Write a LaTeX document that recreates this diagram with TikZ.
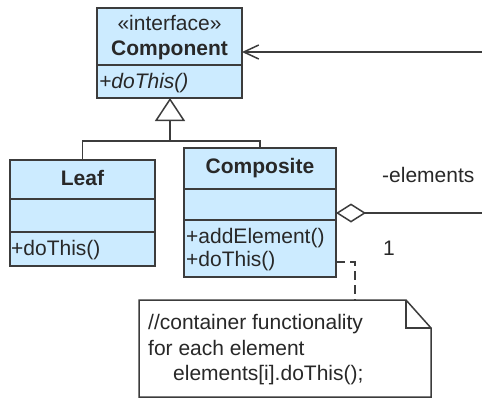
\documentclass[tikz,border=0pt]{standalone}
\usepackage{fontspec}
\setmainfont{Liberation Sans}
\usetikzlibrary{arrows.meta}
\definecolor{clsfill}{RGB}{204,235,255}
\definecolor{ln}{RGB}{60,60,60}
\definecolor{txtc}{RGB}{40,40,40}
\begin{document}
\begin{tikzpicture}[x=1pt,y=-1pt,
  cls/.style={draw=ln, fill=clsfill, line width=1.5pt, inner sep=0pt, outer sep=0pt, anchor=north west},
  txt/.style={font=\fontsize{21}{25}\selectfont, text=txtc, inner sep=0pt, anchor=base},
  btxt/.style={txt, font=\fontsize{21}{25}\selectfont\bfseries},
  lbl/.style={txt, anchor=base west},
  conn/.style={draw=ln, line width=1.5pt},
]
\useasboundingbox (0,0) rectangle (482,399);

% Component
\node[cls, minimum width=145pt, minimum height=90pt] (comp) at (97,8) {};
\draw[conn] (comp.west |- 0,65) -- (comp.east |- 0,65);
\node[txt] (compst) at (169.5,30) {«interface»};
\node[btxt] (compname) at (169.5,55) {Component};
\node[lbl] (compop) at (99,88) {\itshape +doThis()};

% Leaf
\node[cls, minimum width=145pt, minimum height=106pt] (leaf) at (10,160) {};
\draw[conn] (leaf.west |- 0,199) -- (leaf.east |- 0,199);
\draw[conn] (leaf.west |- 0,232) -- (leaf.east |- 0,232);
\node[btxt] (leafname) at (82.5,185) {Leaf};
\node[lbl] (leafop) at (11,255) {+doThis()};

% Composite
\node[cls, minimum width=152pt, minimum height=129pt] (compo) at (184,148) {};
\draw[conn] (compo.west |- 0,189) -- (compo.east |- 0,189);
\draw[conn] (compo.west |- 0,220) -- (compo.east |- 0,220);
\node[btxt] (componame) at (260,173) {Composite};
\node[lbl] (compoop1) at (186,243) {+addElement()};
\node[lbl] (compoop2) at (186,266) {+doThis()};

% generalization
\coordinate (j) at (170,141);
\draw[conn] (leaf.north) |- (j) -| (compo.north);
\draw[conn, -{Triangle[fill=white, length=23pt, width=30pt]}] (j) -- (comp.south -| j);

% dependency arrow to Component
\coordinate (r1) at (482,52);
\draw[conn, -{Straight Barb[length=15pt, width=14pt]}] (r1) -- (comp.east |- r1);

% aggregation
\coordinate (r2) at (482,213);
\draw[conn, -{Diamond[fill=white, length=30pt, width=19pt]}] (r2) -- (compo.east |- r2);
\node[lbl] (elab) at (382,182) {-elements};
\node[lbl] (mult) at (383,255) {1};

% note
\node[inner sep=0pt, outer sep=0pt, minimum width=292pt, minimum height=97pt, anchor=north west] (note) at (139,300) {};
\draw[conn, fill=white, line join=miter] (note.north west) -- ([xshift=-25pt]note.north east) -- ([yshift=-28pt]note.north east) -- (note.south east) -- (note.south west) -- cycle;
\draw[conn] ([xshift=-25pt]note.north east) |- ([yshift=-28pt]note.north east);
\node[lbl] (n1) at (148,329) {//container functionality};
\node[lbl] (n2) at (148,355) {for each element};
\node[lbl] (n3) at (173,380) {elements[i].doThis();};

% note link
\coordinate (tk) at (355,262);
\draw[conn, dash pattern=on 9pt off 5pt] (compo.east |- tk) -| (note.north -| tk);
\end{tikzpicture}
\end{document}
